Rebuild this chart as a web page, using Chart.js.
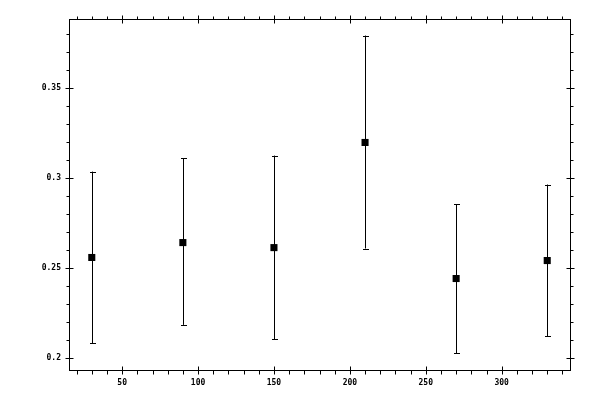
<!DOCTYPE html>
<html>
<head>
<meta charset="utf-8">
<script src="https://cdn.jsdelivr.net/npm/chart.js@4"></script>
<style>
  html, body { margin: 0; padding: 0; background: #fff; }
  #chart { display: block; }
</style>
</head>
<body>
<canvas id="chart" width="600" height="400"></canvas>
<script>
// measured values
const xValues = [30, 90, 150, 210, 270, 330];
const yValues = [0.2559, 0.2642, 0.2614, 0.3199, 0.2442, 0.2542];
const yUpper = [0.3037, 0.3111, 0.3126, 0.3794, 0.2854, 0.2965];
const yLower = [0.2083, 0.2184, 0.2104, 0.2609, 0.2026, 0.2121];

const xTicks = [50, 100, 150, 200, 250, 300];
const xTickLabels = ['50', '100', '150', '200', '250', '300'];
const yTicks = [0.2, 0.25, 0.3, 0.35];
const yTickLabels = ['0.2', '0.25', '0.3', '0.35'];

const xRange = [15, 345];
const yRange = [0.1933, 0.3886];
const xMinorStep = 10;
const yMinorStep = 0.01;

const MAJOR = 4, MINOR = 3, CAP = 2.5;

function minorValues(lo, hi, step) {
    const out = [];
    const start = Math.ceil(lo / step - 1e-9);
    for (let i = start; i * step <= hi + 1e-9; i++) out.push(+(i * step).toFixed(6));
    return out;
}

const framePlugin = {
    id: 'frame',
    afterDatasetsDraw(chart) {
        const { ctx, chartArea: a, scales: { x, y } } = chart;
        ctx.save();
        ctx.strokeStyle = '#000';
        ctx.lineWidth = 1;

        // error bars
        ctx.beginPath();
        xValues.forEach((xv, i) => {
            const px = Math.round(x.getPixelForValue(xv)) + 0.5;
            const top = y.getPixelForValue(yUpper[i]);
            const bot = y.getPixelForValue(yLower[i]);
            ctx.moveTo(px, top);
            ctx.lineTo(px, bot);
            ctx.moveTo(px - CAP, Math.round(top) + 0.5);
            ctx.lineTo(px + CAP + 1, Math.round(top) + 0.5);
            ctx.moveTo(px - CAP, Math.round(bot) + 0.5);
            ctx.lineTo(px + CAP + 1, Math.round(bot) + 0.5);
        });
        ctx.stroke();

        // frame
        const L = Math.round(a.left) + 0.5, R = Math.round(a.right) + 0.5;
        const T = Math.round(a.top) + 0.5, B = Math.round(a.bottom) + 0.5;
        ctx.strokeRect(L, T, R - L, B - T);

        ctx.beginPath();
        // x ticks, bottom and top
        minorValues(xRange[0], xRange[1], xMinorStep).forEach(v => {
            const px = Math.round(x.getPixelForValue(v)) + 0.5;
            const major = xTicks.includes(v);
            ctx.moveTo(px, B + (major ? -MAJOR : 0));
            ctx.lineTo(px, B + MAJOR);
            ctx.moveTo(px, T - (major ? MAJOR : MINOR));
            ctx.lineTo(px, T + (major ? MAJOR : 0));
        });
        // y ticks, left and right
        minorValues(yRange[0], yRange[1], yMinorStep).forEach(v => {
            const py = Math.round(y.getPixelForValue(v)) + 0.5;
            const major = yTicks.some(t => Math.abs(t - v) < 1e-6);
            ctx.moveTo(L - (major ? MAJOR : MINOR), py);
            ctx.lineTo(L + (major ? MAJOR : 0), py);
            ctx.moveTo(R - (major ? MAJOR : 0), py);
            ctx.lineTo(R + (major ? MAJOR : MINOR), py);
        });
        ctx.stroke();
        ctx.restore();
    }
};

const tickFont = { family: 'DejaVu Sans Mono', size: 8, weight: 'bold' };

new Chart(document.getElementById('chart'), {
    type: 'scatter',
    data: {
        datasets: [{
            data: xValues.map((xv, i) => ({ x: xv, y: yValues[i] })),
            pointStyle: 'rect',
            pointRadius: 5,
            pointHoverRadius: 5,
            pointBorderWidth: 0,
            backgroundColor: '#000',
            borderColor: '#000'
        }]
    },
    options: {
        responsive: false,
        animation: false,
        devicePixelRatio: 1,
        layout: { padding: { top: 19, right: 30, left: 0, bottom: 0 } },
        plugins: { legend: { display: false }, tooltip: { enabled: false } },
        scales: {
            x: {
                type: 'linear',
                min: xRange[0],
                max: xRange[1],
                afterBuildTicks: s => { s.ticks = xTicks.map(v => ({ value: v })); },
                afterFit: s => { s.height = 30; },
                grid: { display: true, drawOnChartArea: false, tickLength: 4, tickColor: 'rgba(0,0,0,0)' },
                border: { display: false },
                ticks: {
                    color: '#000',
                    font: tickFont,
                    padding: 4,
                    maxRotation: 0,
                    callback: (v, i) => xTickLabels[i]
                }
            },
            y: {
                type: 'linear',
                min: yRange[0],
                max: yRange[1],
                afterBuildTicks: s => { s.ticks = yTicks.map(v => ({ value: v })); },
                afterFit: s => { s.width = 69; },
                grid: { display: true, drawOnChartArea: false, tickLength: 4, tickColor: 'rgba(0,0,0,0)' },
                border: { display: false },
                ticks: {
                    color: '#000',
                    font: tickFont,
                    padding: 4,
                    callback: (v, i) => yTickLabels[i]
                }
            }
        }
    },
    plugins: [framePlugin]
});
</script>
</body>
</html>
